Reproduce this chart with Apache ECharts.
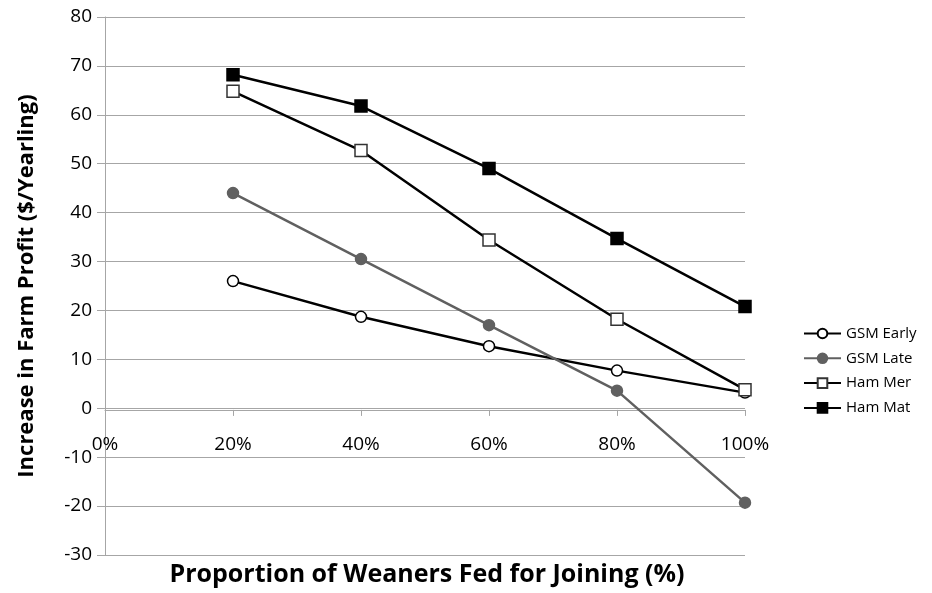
<!DOCTYPE html>
<html>
<head>
<meta charset="utf-8">
<script src="https://cdn.jsdelivr.net/npm/echarts@6/dist/echarts.min.js"></script>
<style>html,body{margin:0;padding:0;background:#fff}#c{width:932px;height:593px}</style>
</head>
<body>
<div id="c"></div>
<script>
var categories = [20, 40, 60, 80, 100];
var gsmEarly = [26.0, 18.7, 12.7, 7.7, 3.2];
var gsmLate = [44.0, 30.5, 17.0, 3.6, -19.3];
var hamMer = [64.8, 52.7, 34.4, 18.2, 3.8];
var hamMat = [68.2, 61.8, 49.0, 34.7, 20.8];
var seriesNames = ['GSM Early', 'GSM Late', 'Ham Mer', 'Ham Mat'];

function pairs(vals) { return categories.map(function (c, i) { return [c, vals[i]]; }); }

var FONT = '"Open Sans", "Noto Sans", sans-serif';
var chart = echarts.init(document.getElementById('c'), null, { renderer: 'canvas' });
var gridColor = '#a6a6a6';

function mkSeries(name, vals, symbol, lineColor, fill, border) {
  return {
    name: name, type: 'line', data: pairs(vals),
    symbol: symbol, symbolSize: symbol === 'circle' ? 11 : 12,
    showAllSymbol: true,
    lineStyle: { color: lineColor, width: 2.5 },
    itemStyle: { color: fill, borderColor: border, borderWidth: 1.5 },
    emphasis: { disabled: true },
    z: 3
  };
}

chart.setOption({
  animation: false,
  backgroundColor: '#fff',
  grid: { left: 105, right: 187, top: 17, bottom: 38, containLabel: false },
  legend: {
    orient: 'vertical', left: 798, top: 321, itemGap: 9.8,
    itemWidth: 37, itemHeight: 12,
    textStyle: { fontFamily: FONT, fontSize: 15, color: '#000' },
    data: seriesNames
  },
  xAxis: {
    type: 'value', min: 0, max: 100, interval: 20,
    axisLine: { onZero: false, lineStyle: { color: gridColor, width: 1 } },
    axisTick: { show: true, inside: false, length: 6, lineStyle: { color: gridColor } },
    axisLabel: { formatter: '{value}%', fontFamily: FONT, fontSize: 19, color: '#000', margin: 25 },
    splitLine: { show: false }
  },
  yAxis: {
    type: 'value', min: -30, max: 80, interval: 10,
    axisLine: { show: true, onZero: false, lineStyle: { color: gridColor, width: 1 } },
    axisTick: { show: true, length: 8, lineStyle: { color: gridColor } },
    axisLabel: { fontFamily: FONT, fontSize: 19, color: '#000', margin: 13 },
    splitLine: { show: true, lineStyle: { color: gridColor, width: 1 } },
    name: 'Increase in Farm Profit ($/Yearling)',
    nameLocation: 'middle', nameGap: 67, nameRotate: 90,
    nameTextStyle: { fontFamily: FONT, fontSize: 22, fontWeight: 'bold', color: '#000' }
  },
  graphic: [{
    type: 'text', x: 427, y: 562,
    style: { text: 'Proportion of Weaners Fed for Joining (%)', font: 'bold 25px ' + FONT, fill: '#000', textAlign: 'center' }
  }],
  series: [
    mkSeries(seriesNames[0], gsmEarly, 'circle', '#000', '#fff', '#000'),
    mkSeries(seriesNames[1], gsmLate, 'circle', '#606060', '#606060', '#606060'),
    mkSeries(seriesNames[2], hamMer, 'rect', '#000', '#fff', '#333'),
    mkSeries(seriesNames[3], hamMat, 'rect', '#000', '#000', '#000')
  ]
});
// Place the x axis on the y = 0 line (as in the reference)
var yBottom = chart.convertToPixel({ yAxisIndex: 0 }, -30);
var yZero = chart.convertToPixel({ yAxisIndex: 0 }, 0);
chart.setOption({ xAxis: { offset: -(yBottom - yZero) } });
</script>
</body>
</html>
